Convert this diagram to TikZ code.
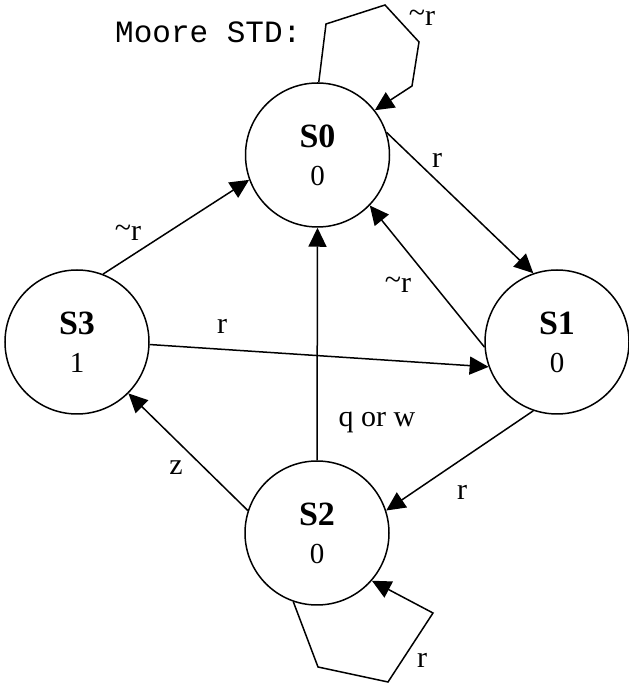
\documentclass[tikz,border=0pt]{standalone}
\usepackage{fontspec}
\setmainfont{Liberation Serif}
\setmonofont{Liberation Mono}
\usetikzlibrary{arrows.meta}
\newcommand{\tld}{\raisebox{3pt}{\textasciitilde}}
\begin{document}
\begin{tikzpicture}[x=1pt,y=1pt,
  state/.style={circle,draw,line width=1.5pt,minimum size=144pt,inner sep=0pt,align=center,
    font=\fontsize{29}{38}\selectfont},
  trans/.style={line width=1.5pt,-{Triangle[length=19pt,width=18pt]},line join=miter},
  lbl/.style={font=\fontsize{30}{34}\selectfont,inner sep=0pt}]
\useasboundingbox (0,0) rectangle (629,683);
\node[state] (s0) at (317.5,528) {{\fontsize{34}{38}\selectfont\bfseries S0}\\0};
\node[state] (s1) at (557,341) {{\fontsize{34}{38}\selectfont\bfseries S1}\\0};
\node[state] (s2) at (317,150) {{\fontsize{34}{38}\selectfont\bfseries S2}\\0};
\node[state] (s3) at (77,341) {{\fontsize{34}{38}\selectfont\bfseries S3}\\1};
\node[anchor=base west,inner sep=0pt,font=\ttfamily\fontsize{31}{34}\selectfont] (title) at (115,640) {Moore STD:};
% transitions
\draw[trans] (s0.18.6) -- (s1.109);
\draw[trans] (s1.184) -- (s0.-44.7);
\draw[trans] (s2.north) -- (s0.south);
\draw[trans] (s3.-2.4) -- (s1.200);
\draw[trans] (s3.69) -- (s0.200);
\draw[trans] (s1.251.6) -- (s2.18.7);
\draw[trans] (s2.162) -- (s3.-45);
\draw[trans] (s0.89.6) -- (326,659) -- (385,678) -- (419,641) -- (412,597) -- (s0.38.5);
\draw[trans] (s2.251.6) -- (318,16) -- (388,1) -- (433,70) -- (s2.-41);
% labels
\node[lbl] (l1) at (422,665) {\tld r};
\node[lbl] (l2) at (437,523) {r};
\node[lbl] (l3) at (398,398) {\tld r};
\node[lbl] (l4) at (222,357) {r};
\node[lbl] (l5) at (128,450) {\tld r};
\node[lbl] (l6) at (377,261) {q or w};
\node[lbl] (l7) at (176,215) {z};
\node[lbl] (l8) at (462,191) {r};
\node[lbl] (l9) at (422,23) {r};
\end{tikzpicture}
\end{document}
